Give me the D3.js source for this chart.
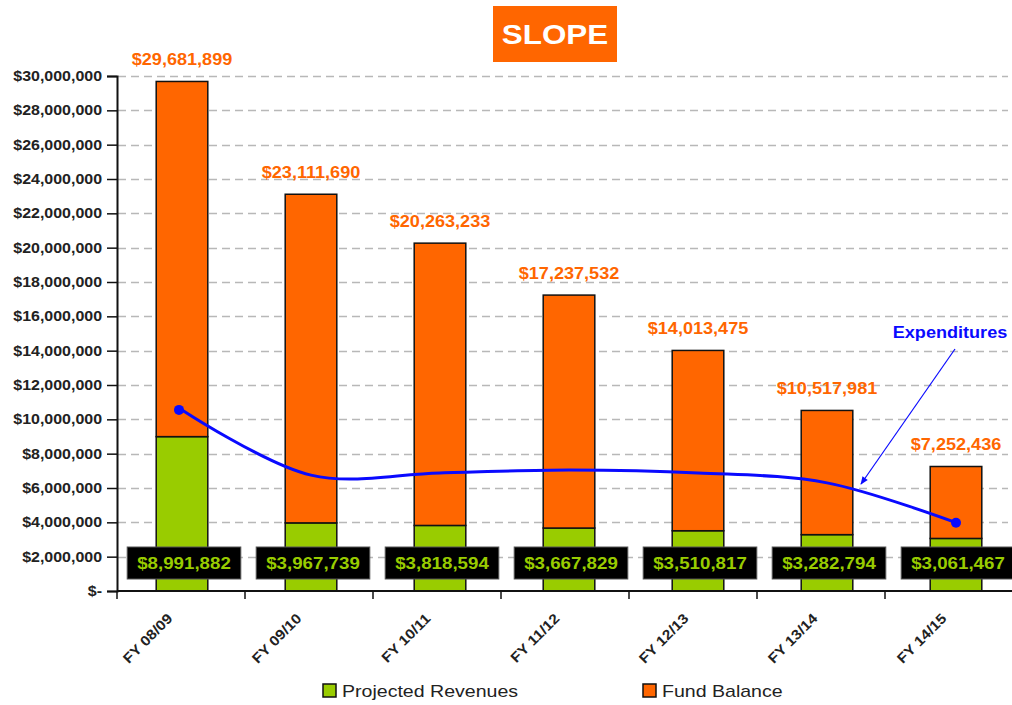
<!DOCTYPE html>
<html>
<head>
<meta charset="utf-8">
<script src="https://cdn.jsdelivr.net/npm/d3@7"></script>
<style>
  html, body { margin: 0; padding: 0; background: #fff; }
  svg { display: block; font-family: Arial, "Liberation Sans", sans-serif; }
</style>
</head>
<body>
<svg id="chart" width="1012" height="705"></svg>
<script>
const categories = ["FY 08/09", "FY 09/10", "FY 10/11", "FY 11/12", "FY 12/13", "FY 13/14", "FY 14/15"];
const projectedRevenues = [8991882, 3967739, 3818594, 3667829, 3510817, 3282794, 3061467];
const totalBalance = [29681899, 23111690, 20263233, 17237532, 14013475, 10517981, 7252436];
const expenditures = [10550000, 6750000, 6880000, 7050000, 6880000, 6300000, 3980000];
const yTicks = [0, 2e6, 4e6, 6e6, 8e6, 10e6, 12e6, 14e6, 16e6, 18e6, 20e6, 22e6, 24e6, 26e6, 28e6, 30e6];
const seriesNames = ["Projected Revenues", "Fund Balance"];

const ORANGE = "#ff6600", GREEN = "#99cc00", BLUE = "#0a0aff";
const svg = d3.select("#chart");
const fmt = d3.format(",");
const money = v => v === 0 ? "$-" : "$" + fmt(v);

function stretch(sel, k) {
  sel.each(function () {
    const w = this.getComputedTextLength();
    d3.select(this).attr("textLength", w * k).attr("lengthAdjust", "spacingAndGlyphs");
  });
}

const x = d3.scaleBand().domain(categories).range([117.5, 1020.5]).paddingInner(0.6).paddingOuter(0.3);
const xb = d3.scaleBand().domain(categories).range([117, 1013]);
const y = d3.scaleLinear().domain([0, 30e6]).range([591, 76]);
const cx = c => x(c) + x.bandwidth() / 2;

// gridlines
svg.append("g").selectAll("line").data(yTicks.filter(d => d > 0)).join("line")
  .attr("x1", 118).attr("x2", 1008)
  .attr("y1", d => Math.round(y(d)) + 0.5).attr("y2", d => Math.round(y(d)) + 0.5)
  .attr("stroke", "#b8b8b8").attr("stroke-width", 1.3).attr("stroke-dasharray", "8,5");

// bars
const fundBal = totalBalance.map((t, i) => t - projectedRevenues[i]);
const stackData = categories.map((c, i) => ({ cat: c, rev: projectedRevenues[i], fund: fundBal[i], total: totalBalance[i] }));
const stack = d3.stack().keys(["rev", "fund"])(stackData);
const colors = [GREEN, ORANGE];
svg.append("g").selectAll("g").data(stack).join("g")
  .attr("fill", (d, i) => colors[i])
  .selectAll("rect").data(d => d).join("rect")
  .attr("x", d => x(d.data.cat)).attr("width", x.bandwidth())
  .attr("y", d => y(d[1])).attr("height", d => y(d[0]) - y(d[1]))
  .attr("stroke", "#111").attr("stroke-width", 1.5);

// total labels
const tl = svg.append("g").selectAll("text").data(stackData).join("text")
  .attr("x", d => cx(d.cat))
  .attr("y", d => y(d.total) - 16)
  .attr("text-anchor", "middle").attr("fill", ORANGE)
  .attr("font-size", 16).attr("font-weight", "bold")
  .text(d => money(d.total));
stretch(tl, 1.13);

// expenditures line
const line = d3.line()
  .x((d, i) => cx(categories[i]))
  .y(d => y(d))
  .curve(d3.curveCatmullRom.alpha(0.5));
svg.append("path").datum(expenditures).attr("d", line)
  .attr("fill", "none").attr("stroke", BLUE).attr("stroke-width", 3);
svg.append("g").selectAll("circle")
  .data([0, expenditures.length - 1]).join("circle")
  .attr("cx", i => cx(categories[i]) - (i === 0 ? 3 : 0))
  .attr("cy", i => y(expenditures[i]))
  .attr("r", 5).attr("fill", BLUE);

// black revenue boxes
const boxes = svg.append("g").selectAll("g").data(stackData).join("g")
  .attr("transform", d => `translate(${cx(d.cat) + 2},563)`);
const bt = boxes.append("text")
  .attr("text-anchor", "middle").attr("dy", "0.36em")
  .attr("fill", GREEN).attr("font-size", 17).attr("font-weight", "bold")
  .text(d => money(d.rev));
stretch(bt, 1.1);
boxes.insert("rect", "text")
  .each(function () {
    const t = d3.select(this.parentNode).select("text").node();
    const w = +t.getAttribute("textLength");
    d3.select(this).attr("x", -w / 2 - 10).attr("width", w + 20);
  })
  .attr("y", -16).attr("height", 32)
  .attr("fill", "#000").attr("stroke", "#555").attr("stroke-width", 1);

// y axis
const yAxis = svg.append("g").attr("transform", "translate(117,0)")
  .call(d3.axisLeft(y).tickValues(yTicks).tickFormat(money).tickSize(10).tickPadding(5));
yAxis.select(".domain").attr("stroke", "#111").attr("stroke-width", 2);
yAxis.selectAll(".tick line").attr("stroke", "#111").attr("stroke-width", 1.5);
const ytx = yAxis.selectAll(".tick text").attr("font-size", 14).attr("font-weight", "bold")
  .attr("fill", "#222").attr("font-family", "Arial, 'Liberation Sans', sans-serif");
stretch(ytx, 1.14);

// x axis
const xg = svg.append("g").attr("transform", "translate(0,591)");
xg.append("line").attr("x1", 117).attr("x2", 1012).attr("y1", 0).attr("y2", 0)
  .attr("stroke", "#111").attr("stroke-width", 2);
xg.selectAll("line.tk").data(categories).join("line").attr("class", "tk")
  .attr("x1", d => xb(d)).attr("x2", d => xb(d)).attr("y1", 0).attr("y2", 8)
  .attr("stroke", "#111").attr("stroke-width", 1.5);
const xt = xg.selectAll("text").data(categories).join("text")
  .attr("transform", d => `translate(${cx(d) - 16},21) rotate(-45)`)
  .attr("text-anchor", "end").attr("dy", "0.75em")
  .attr("font-size", 14).attr("font-weight", "bold").attr("fill", "#222")
  .text(d => d);
stretch(xt, 1.12);

// title
const tg = svg.append("g");
tg.append("rect").attr("x", 493).attr("y", 6).attr("width", 124).attr("height", 56).attr("fill", ORANGE);
const tt = tg.append("text").attr("x", 555).attr("y", 44).attr("text-anchor", "middle")
  .attr("fill", "#fff").attr("font-size", 28).attr("font-weight", "bold").text("SLOPE");
stretch(tt, 1.12);

// annotation
const defs = svg.append("defs");
defs.append("marker").attr("id", "arr").attr("viewBox", "0 0 10 10")
  .attr("refX", 9).attr("refY", 5).attr("markerWidth", 12).attr("markerHeight", 8)
  .attr("markerUnits", "userSpaceOnUse").attr("orient", "auto")
  .append("path").attr("d", "M0,1 L10,5 L0,9 Z").attr("fill", BLUE);
svg.append("line").attr("x1", 955).attr("y1", 349).attr("x2", 861).attr("y2", 484)
  .attr("stroke", BLUE).attr("stroke-width", 1.2).attr("marker-end", "url(#arr)");
const at = svg.append("text").attr("x", 950).attr("y", 338).attr("text-anchor", "middle")
  .attr("fill", BLUE).attr("font-size", 16).attr("font-weight", "bold").text("Expenditures");
stretch(at, 1.13);

// legend
const lg = svg.append("g").selectAll("g").data(seriesNames).join("g")
  .attr("transform", (d, i) => `translate(${[323, 643][i]},684)`);
lg.append("rect").attr("width", 13).attr("height", 13)
  .attr("fill", (d, i) => colors[i]).attr("stroke", "#111").attr("stroke-width", 1.5);
const ltx = lg.append("text").attr("x", 19).attr("y", 13)
  .attr("font-size", 17).attr("fill", "#222").text(d => d);
stretch(ltx, 1.15);
</script>
</body>
</html>
